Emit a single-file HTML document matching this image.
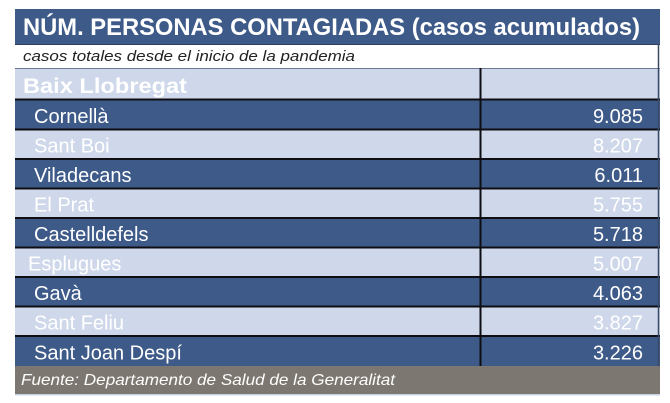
<!DOCTYPE html>
<html><head><meta charset="utf-8"><style>
html,body{margin:0;padding:0;background:#fff;}
svg{display:block;}
text{font-family:"Liberation Sans",Arial,sans-serif;}
</style></head><body>
<svg width="670" height="403" viewBox="0 0 670 403" xmlns="http://www.w3.org/2000/svg">
<rect x="0" y="0" width="670" height="403" fill="#fff"/>
<!-- title band -->
<rect x="15" y="9" width="645" height="35" fill="#3e5a89"/>
<text x="23" y="35" font-size="24" font-weight="bold" fill="#fff" textLength="617" lengthAdjust="spacingAndGlyphs">NÚM. PERSONAS CONTAGIADAS (casos acumulados)</text>
<!-- subtitle -->
<rect x="15" y="44" width="645" height="24" fill="#fff"/>
<line x1="15" y1="44.5" x2="660" y2="44.5" stroke="#2c3f60" stroke-width="1"/>
<text x="23" y="61" font-size="15" font-style="italic" fill="#222" textLength="332" lengthAdjust="spacingAndGlyphs">casos totales desde el inicio de la pandemia</text>
<!-- Baix row -->
<rect x="15" y="68" width="645" height="31" fill="#cfd8ea"/>
<line x1="15" y1="68.5" x2="660" y2="68.5" stroke="#6b7a94" stroke-width="1"/>
<text x="23" y="93" font-size="21" font-weight="bold" fill="#fff" textLength="164" lengthAdjust="spacingAndGlyphs">Baix Llobregat</text>
<!-- data rows -->
<rect x="15" y="100" width="645" height="29.5" fill="#3e5a89"/>
<rect x="15" y="129.5" width="645" height="29.5" fill="#cfd8ea"/>
<rect x="15" y="159" width="645" height="29.5" fill="#3e5a89"/>
<rect x="15" y="188.5" width="645" height="29.5" fill="#cfd8ea"/>
<rect x="15" y="218" width="645" height="29.5" fill="#3e5a89"/>
<rect x="15" y="247.5" width="645" height="29.5" fill="#cfd8ea"/>
<rect x="15" y="277" width="645" height="29.5" fill="#3e5a89"/>
<rect x="15" y="306.5" width="645" height="29.5" fill="#cfd8ea"/>
<rect x="15" y="336" width="645" height="30.5" fill="#3e5a89"/>
<!-- row borders -->
<g stroke="#0d0d12" stroke-width="2">
<line x1="15" y1="99.5" x2="660" y2="99.5"/>
<line x1="15" y1="129.5" x2="660" y2="129.5"/>
<line x1="15" y1="159" x2="660" y2="159"/>
<line x1="15" y1="188.5" x2="660" y2="188.5"/>
<line x1="15" y1="218" x2="660" y2="218"/>
<line x1="15" y1="247.5" x2="660" y2="247.5"/>
<line x1="15" y1="277" x2="660" y2="277"/>
<line x1="15" y1="306.5" x2="660" y2="306.5"/>
<line x1="15" y1="336" x2="660" y2="336"/>
<line x1="480.5" y1="68" x2="480.5" y2="366"/>
</g>
<!-- right edge -->
<line x1="658.5" y1="44" x2="658.5" y2="366" stroke="#3a4a66" stroke-width="1.5"/>
<!-- names -->
<g font-size="20">
<text x="34" y="123" fill="#fff">Cornellà</text>
<text x="34" y="152.5" fill="#fff">Sant Boi</text>
<text x="34" y="182" fill="#fff">Viladecans</text>
<text x="34" y="211.5" fill="#fff">El Prat</text>
<text x="34" y="241" fill="#fff">Castelldefels</text>
<text x="28" y="270.5" fill="#fff">Esplugues</text>
<text x="34" y="300" fill="#fff">Gavà</text>
<text x="34" y="329.5" fill="#fff">Sant Feliu</text>
<text x="34" y="359.5" fill="#fff">Sant Joan Despí</text>
</g>
<g font-size="20" text-anchor="end">
<text x="643" y="123" fill="#fff">9.085</text>
<text x="643" y="152.5" fill="#fff">8.207</text>
<text x="643" y="182" fill="#fff">6.011</text>
<text x="643" y="211.5" fill="#fff">5.755</text>
<text x="643" y="241" fill="#fff">5.718</text>
<text x="643" y="270.5" fill="#fff">5.007</text>
<text x="643" y="300" fill="#fff">4.063</text>
<text x="643" y="329.5" fill="#fff">3.827</text>
<text x="643" y="359.5" fill="#fff">3.226</text>
</g>
<!-- source -->
<rect x="15" y="366" width="645" height="28" fill="#7c7770"/>
<rect x="15" y="394" width="645" height="1.5" fill="#c9d3e6"/>
<text x="21" y="385" font-size="16" font-style="italic" fill="#fff" textLength="374" lengthAdjust="spacingAndGlyphs">Fuente: Departamento de Salud de la Generalitat</text>
</svg>
</body></html>
